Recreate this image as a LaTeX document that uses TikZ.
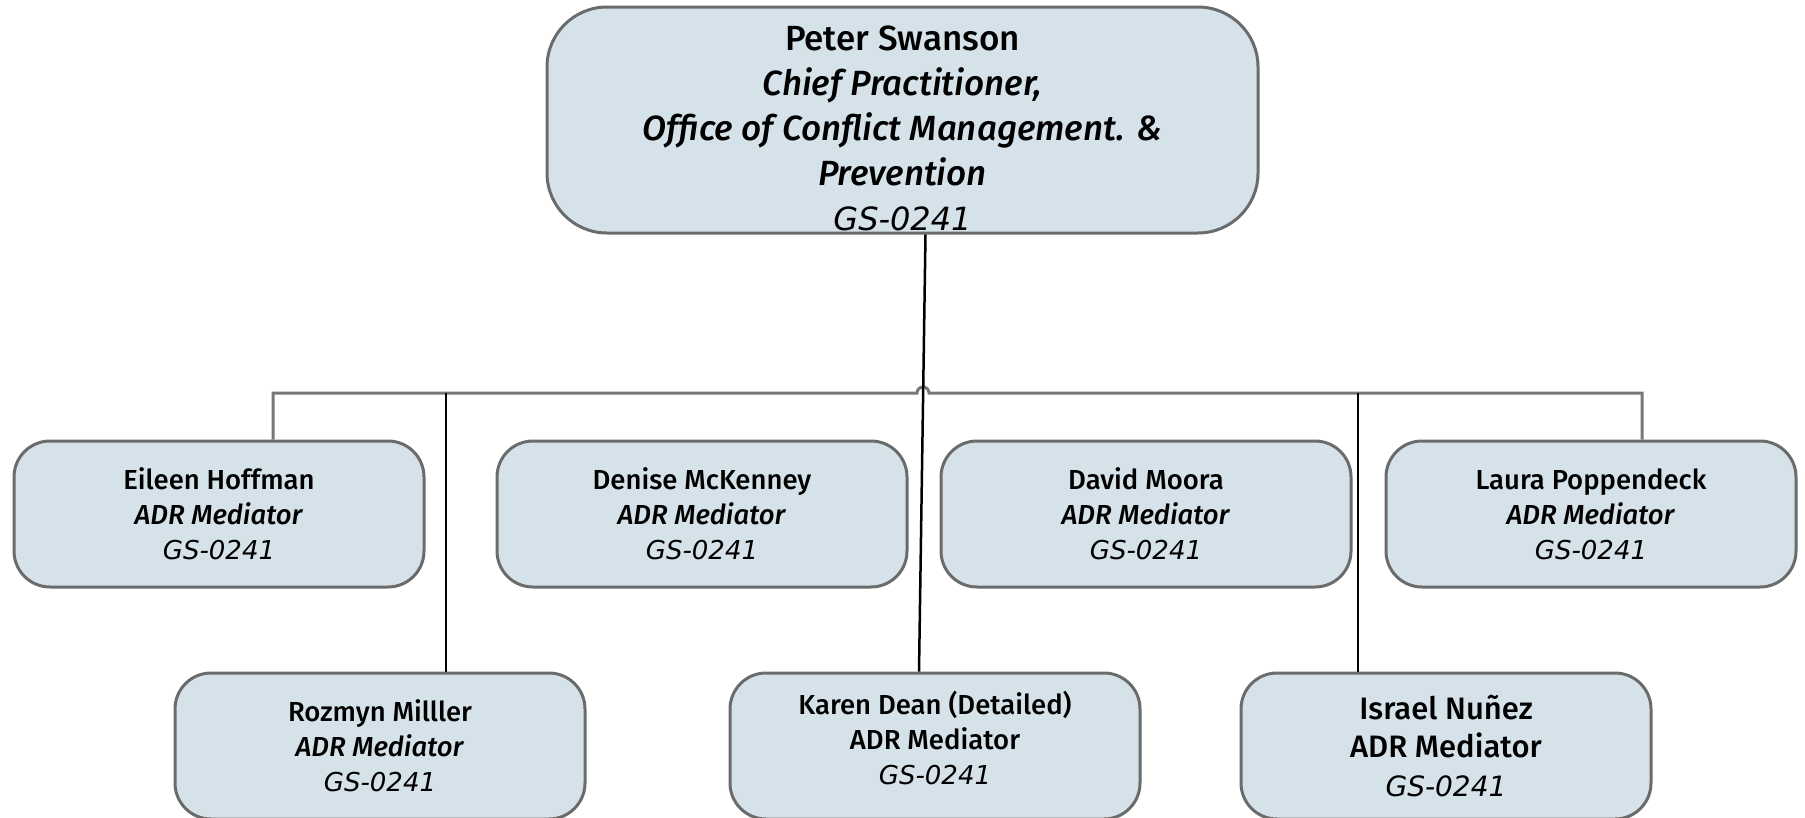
\documentclass[tikz,border=0pt]{standalone}
\usepackage{fontspec}
\setmainfont{Fira Sans Medium}[ItalicFont={Fira Sans Medium Italic}]
\newfontfamily\gsfont{DejaVu Sans}
\usetikzlibrary{positioning}

\definecolor{boxfill}{HTML}{D6E2E9}
\definecolor{boxline}{HTML}{6B6B6B}
\definecolor{busgray}{HTML}{777777}

\tikzset{
  orgbox/.style={draw=boxline, fill=boxfill, line width=3pt, rounded corners=36pt,
    minimum width=410pt, minimum height=146pt, align=center, inner sep=0pt,
    font=\fontsize{27.5}{35}\selectfont},
  topbox/.style={orgbox, rounded corners=60pt, minimum width=711pt, minimum height=226pt,
    font=\fontsize{35}{45}\selectfont},
  bigbox/.style={orgbox, font=\fontsize{31}{38.5}\selectfont},
  busline/.style={draw=busgray, line width=3pt},
  reportline/.style={draw=black, line width=2.5pt}
}
\newcommand{\gsgrade}{{\gsfont\itshape GS-0241}}
\newcommand{\smallgs}{{\gsfont\itshape\fontsize{26}{35}\selectfont GS-0241}}

\begin{document}
\begin{tikzpicture}[x=1pt, y=-1pt]
  \useasboundingbox (0,0) rectangle (1805,817);

  % Chief
  \node[topbox] (peter) at (902.5,120) {\raisebox{-11pt}[\height][\depth]{\begin{tabular}{@{}c@{}}
    Peter Swanson\\ \textit{Chief Practitioner,}\\
    \textit{Office of Conflict Management. \&}\\ \textit{Prevention}\\
    {\fontsize{32}{45}\selectfont\gsgrade}\end{tabular}}};

  % First row
  \node[orgbox] (eileen) at (219,514) {Eileen Hoffman\\ \textit{ADR Mediator}\\ \smallgs};
  \node[orgbox] (denise) at (702,514) {Denise McKenney\\ \textit{ADR Mediator}\\ \smallgs};
  \node[orgbox] (david) at (1146,514) {David Moora\\ \textit{ADR Mediator}\\ \smallgs};
  \node[orgbox] (laura) at (1591,514) {Laura Poppendeck\\ \textit{ADR Mediator}\\ \smallgs};

  % Second row
  \node[orgbox] (rozmyn) at (380,746) {Rozmyn Milller\\ \textit{ADR Mediator}\\ \smallgs};
  \node[orgbox] (karen) at (935,746) {Karen Dean (Detailed)\\ ADR Mediator\\ \smallgs\\[-19pt]\mbox{}};
  \node[bigbox] (israel) at (1446,746) {Israel Nuñez\\ ADR Mediator\\ {\fontsize{28}{38.5}\selectfont\gsgrade}};

  % Bus with hop
  \coordinate (hopL) at (917,393);
  \draw[busline] ([xshift=54pt]eileen.north) |- (hopL)
    arc[start angle=180, end angle=0, radius=6pt] -| ([xshift=51pt]laura.north);

  % Direct lines
  \draw[reportline] ([xshift=23pt]peter.south) -- ([xshift=-16pt]karen.north);
  \draw[reportline] ([xshift=66pt]rozmyn.north) -- ([xshift=66pt]rozmyn.north |- hopL);
  \draw[reportline] ([xshift=-88pt]israel.north) -- ([xshift=-88pt]israel.north |- hopL);
\end{tikzpicture}
\end{document}
